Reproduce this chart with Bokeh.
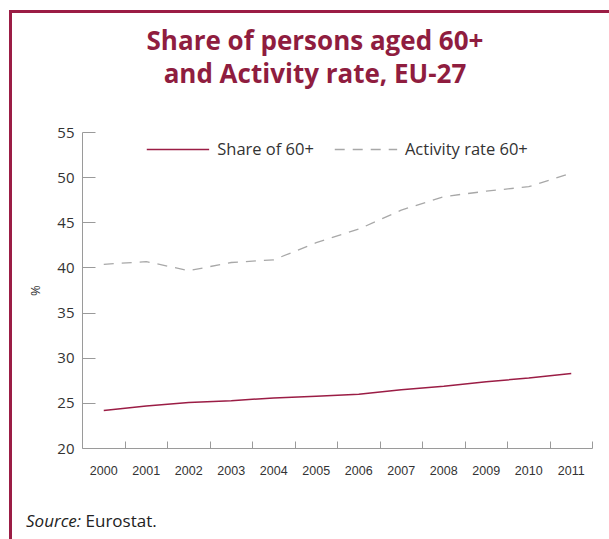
from bokeh.plotting import figure
from bokeh.models import Range1d, FixedTicker, Legend, LegendItem, Div
from bokeh.layouts import column
from bokeh.embed import file_html
from bokeh.resources import INLINE

years = [2000, 2001, 2002, 2003, 2004, 2005, 2006, 2007, 2008, 2009, 2010, 2011]
share_60 = [24.2, 24.7, 25.1, 25.3, 25.6, 25.8, 26.0, 26.5, 26.9, 27.4, 27.8, 28.3]
activity_60 = [40.4, 40.7, 39.7, 40.6, 40.9, 42.8, 44.3, 46.4, 47.9, 48.5, 49.0, 50.5]
y_ticks = [20, 25, 30, 35, 40, 45, 50, 55]
title_lines = ["Share of persons aged 60+", "and Activity rate, EU-27"]
series_names = ["Share of 60+", "Activity rate 60+"]
source_label = "Source:"
source_name = "Eurostat."

CRIMSON = "#8f1d3f"
TEXT = "#333333"
AXIS = "#9a9a9a"

title_div = Div(
    text='<div style="padding-top:6px;padding-left:6px">' + "<br>".join(title_lines) + "</div>",
    width=590, height=95,
    styles={"font-family": "Open Sans", "font-weight": "bold", "font-size": "26px",
            "line-height": "33px", "color": CRIMSON, "text-align": "center"})

p = figure(width=590, height=375, output_backend="svg", toolbar_location=None,
           x_range=Range1d(years[0] - 0.5, years[-1] + 0.5),
           y_range=Range1d(y_ticks[0], y_ticks[-1]),
           min_border_left=70, min_border_right=10, min_border_top=14, min_border_bottom=45)
p.outline_line_color = None
p.xgrid.visible = False
p.ygrid.visible = False

r1 = p.line(years, share_60, line_color="#9b1d45", line_width=1.5)
r2 = p.line(years, activity_60, line_color="#a8a8a8", line_width=1.3, line_dash="10 8")

legend = Legend(items=[LegendItem(label=series_names[0], renderers=[r1]),
                       LegendItem(label=series_names[1], renderers=[r2])],
                orientation="horizontal", location="top_center",
                glyph_width=63, glyph_height=16, label_standoff=8, spacing=20,
                padding=18, margin=5, border_line_color=None, background_fill_alpha=0,
                label_text_font="Open Sans", label_text_font_size="16.5px",
                label_text_color=TEXT)
p.add_layout(legend)

minor = [y + 0.5 for y in years]
p.xaxis.ticker = FixedTicker(ticks=years, minor_ticks=minor)
p.xaxis.major_tick_in = 0
p.xaxis.major_tick_out = 0
p.xaxis.minor_tick_in = 7
p.xaxis.minor_tick_out = 0
p.xaxis.minor_tick_line_color = AXIS
p.xaxis.axis_line_color = AXIS
p.xaxis.major_label_standoff = 17
p.xaxis.major_label_text_font = "Liberation Sans"
p.xaxis.major_label_text_font_size = "12.5px"
p.xaxis.major_label_text_color = TEXT
p.xaxis.major_label_overrides = {y: str(y) for y in years}

p.yaxis.ticker = FixedTicker(ticks=y_ticks)
p.yaxis.major_tick_in = 13
p.yaxis.major_tick_out = 0
p.yaxis.minor_tick_line_color = None
p.yaxis.major_tick_line_color = AXIS
p.yaxis.axis_line_color = AXIS
p.yaxis.major_label_standoff = 8
p.yaxis.major_label_text_font = "Open Sans"
p.yaxis.major_label_text_font_size = "15px"
p.yaxis.major_label_text_color = TEXT
p.yaxis.axis_label = "%"
p.yaxis.axis_label_text_font = "Open Sans"
p.yaxis.axis_label_text_font_style = "normal"
p.yaxis.axis_label_text_font_size = "13px"
p.yaxis.axis_label_text_color = TEXT
p.yaxis.axis_label_standoff = 10

source_div = Div(
    text=f'<div style="padding-top:12px;padding-left:9px"><i>{source_label}</i> {source_name}</div>',
    width=590, height=47,
    styles={"font-family": "Open Sans", "font-size": "17px", "line-height": "22px",
            "color": "#222222"})

layout = column(title_div, p, source_div,
                styles={"border-left": "3px solid #9b1d45", "border-top": "3px solid #9b1d45",
                        "margin-left": "9px", "margin-top": "10px"})

open("out.html", "w").write(file_html(layout, INLINE))
